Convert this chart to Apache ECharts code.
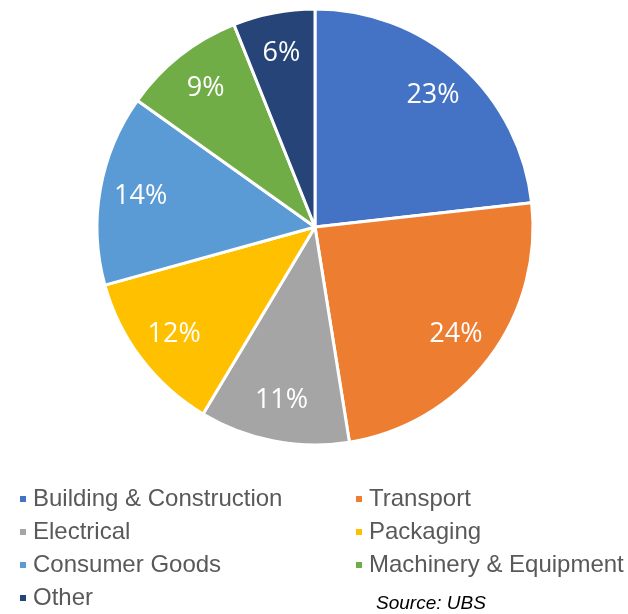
<!DOCTYPE html>
<html>
<head>
<meta charset="utf-8">
<script src="https://cdn.jsdelivr.net/npm/echarts@6/dist/echarts.min.js"></script>
<style>
  html, body { margin: 0; padding: 0; background: #fff; }
  #chart { width: 628px; height: 614px; }
</style>
</head>
<body>
<div id="chart"></div>
<script>
const categories = [
  "Building & Construction",
  "Transport",
  "Electrical",
  "Packaging",
  "Consumer Goods",
  "Machinery & Equipment",
  "Other",
];
const shares = [23, 24, 11, 12, 14, 9, 6];
const colors = ["#4472C4", "#ED7D31", "#A5A5A5", "#FFC000", "#5B9BD5", "#70AD47", "#264478"];
const legendLeft = ["Building & Construction", "Electrical", "Consumer Goods", "Other"];
const legendRight = ["Transport", "Packaging", "Machinery & Equipment"];
const sourceNote = "Source: UBS";

const chart = echarts.init(document.getElementById("chart"));

const pieData = categories.map((name, i) => ({
  name,
  value: shares[i],
  itemStyle: { color: colors[i] },
}));

// legend text style shared by both columns
const legendText = {
  fontFamily: "Liberation Sans, Arial, sans-serif",
  fontSize: 24,
  color: "#595959",
  lineHeight: 24,
  padding: [0, 0, 0, 1],
};

const legendBase = {
  orient: "vertical",
  top: 487,
  height: 140,
  padding: 0,
  icon: "rect",
  itemWidth: 8,
  itemHeight: 8,
  itemGap: 9,
  textStyle: legendText,
};

const option = {
  animation: false,
  legend: [
    Object.assign({}, legendBase, { data: legendLeft, left: 18 }),
    Object.assign({}, legendBase, { data: legendRight, left: 354 }),
  ],
  graphic: [
    {
      type: "text",
      left: 376,
      top: 594,
      style: {
        text: sourceNote,
        font: "italic 19px Liberation Sans, Arial, sans-serif",
        fill: "#000",
      },
    },
  ],
  series: [
    {
      type: "pie",
      center: [315, 227],
      radius: [0, 218],
      startAngle: 90,
      clockwise: true,
      data: pieData,
      itemStyle: { borderColor: "#fff", borderWidth: 3 },
      label: { show: false },
      labelLine: { show: false },
      emphasis: { disabled: true },
    },
    {
      // transparent ring just for label placement (~0.8 of radius)
      type: "pie",
      center: [315, 227],
      radius: [130, 218],
      startAngle: 90,
      clockwise: true,
      silent: true,
      legendHoverLink: false,
      data: pieData.map((d) => ({ name: d.name, value: d.value, itemStyle: { color: "rgba(0,0,0,0)" } })),
      itemStyle: { borderWidth: 0 },
      label: {
        show: true,
        position: "inside",
        formatter: "{c}%",
        color: "#fff",
        fontFamily: "Open Sans, sans-serif",
        fontSize: 27,
      },
      labelLine: { show: false },
      emphasis: { disabled: true },
    },
  ],
};

chart.setOption(option);
window.addEventListener("resize", () => chart.resize());
</script>
</body>
</html>
